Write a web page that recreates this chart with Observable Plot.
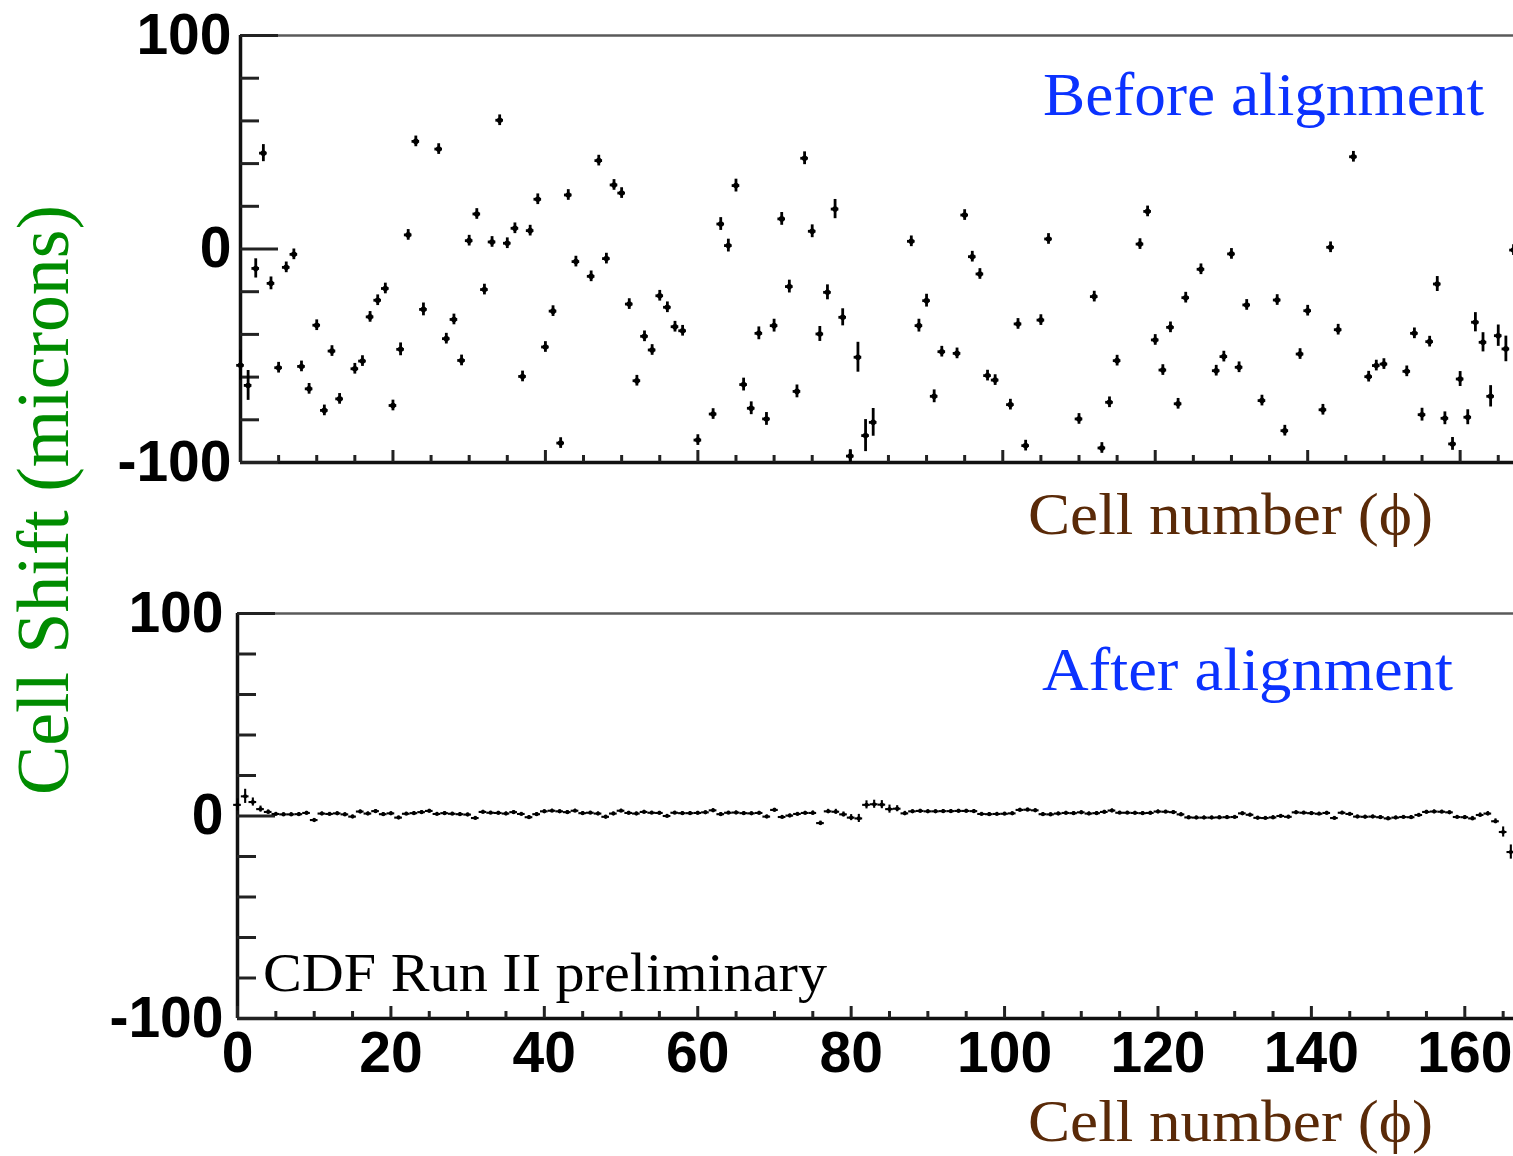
<!DOCTYPE html>
<html><head><meta charset="utf-8">
<script src="https://cdn.jsdelivr.net/npm/d3@7"></script>
<script src="https://cdn.jsdelivr.net/npm/@observablehq/plot@0.6"></script>
<style>
html,body{margin:0;padding:0;background:#fff;overflow:hidden;}
#page{position:relative;width:1513px;height:1156px;background:#fff;}
#top,#bottom,#labels{position:absolute;left:0;}
#top{top:0px}
#bottom{top:580px}
#labels{top:0px;pointer-events:none}
</style></head><body>
<div id="page"><div id="top"></div><div id="bottom"></div><svg id="labels" width="1513" height="1156"></svg></div>
<script>
// ---- data ----
const nCells = 168;
const cells = d3.range(nCells); // cell number (phi)
const xDomain = [0, 167];
const yDomain = [-100, 100];
const yTickLabels = [-100, 0, 100];
const yMajorTicks = [-100, 0, 100];
const yMinorTicks = [-80, -60, -40, -20, 20, 40, 60, 80];
const xLabelTicks = [0, 20, 40, 60, 80, 100, 120, 140, 160];
const xMinorTicks = [5,10,15,25,30,35,45,50,55,65,70,75,85,90,95,105,110,115,125,130,135,145,150,155,165];
const binHalf = 0.5;

// Cell shift before alignment (microns); null = off scale
const before = [
 -54.5,-63.9,-9.1,44.9,-16.1,-55.6,-8.6,-2.5,-55.0,-65.5,
 -35.7,-75.6,-47.8,-70.2,null,-56.1,-52.5,-31.8,-24.0,-18.5,
 -73.3,-47.0,6.6,50.4,-28.3,null,46.8,-42.0,-33.0,-52.2,
 3.9,16.4,-19.0,3.3,60.3,2.7,9.7,-59.7,8.6,23.3,
 -45.9,-29.1,-90.9,25.3,-5.9,null,-12.8,41.4,-4.5,30.0,
 26.2,-25.8,-61.7,-40.9,-47.3,-21.9,-27.3,-36.4,-38.3,null,
 -89.5,null,-77.3,11.7,1.6,29.7,-63.5,-74.6,-39.5,-79.6,
 -35.9,14.1,-17.6,-66.7,42.5,8.3,-39.8,-20.3,18.7,-32.0,
 -97.0,-50.7,-87.4,-81.2,null,null,null,null,3.6,-35.9,
 -24.2,-69.0,-48.1,null,-48.9,15.9,-3.6,-11.7,-59.3,-61.4,
 null,-72.9,-35.1,-92.1,null,-33.3,4.7,null,null,null,
 -79.6,null,-22.3,-93.2,-71.8,-52.3,null,null,2.3,17.6,
 -42.6,-56.7,-36.7,-72.5,-22.8,null,-9.5,null,-57.0,-50.4,
 -2.3,-55.4,-26.2,null,-71.0,null,-23.9,-85.1,null,-49.2,
 -28.9,null,-75.3,0.8,-37.8,null,43.2,null,-59.8,-54.6,
 -53.9,null,null,-57.3,-39.5,-77.6,-43.4,-16.4,-79.3,-91.3,
 -60.9,-78.8,-34.3,-43.7,-69.0,-40.6,-46.8,-0.5
];
const beforeErr = [
 7,7,4.5,4,3,2.5,2.5,2.5,2.5,2.5,
 2.5,2.5,2.5,2.5,0,2.5,2.5,2.5,2.5,2.5,
 2.5,3,2.5,2.5,3,0,2.5,2.5,2.5,2.5,
 2.5,2.5,2.5,2.5,2.5,2.5,2.5,2.5,2.5,2.5,
 2.5,2.5,2.5,2.5,2.5,0,2.5,2.5,2.5,2.5,
 2.5,2.5,2.5,2.5,2.5,2.5,2.5,2.5,2.5,0,
 2.5,0,2.5,3,3,3,3,3,3,3,
 3,3,3,3,3,3,3.5,3.5,4.5,4,
 3,7,7.5,6.5,0,0,0,0,2.5,3,
 3,3,2.5,0,2.5,2.5,2.5,2.5,2.5,2.5,
 0,2.5,2.5,2.5,0,2.5,2.5,0,0,0,
 2.5,0,2.5,2.5,2.5,2.5,0,0,2.5,2.5,
 2.5,2.5,2.5,2.5,2.5,0,2.5,0,2.5,2.5,
 2.5,2.5,2.5,0,2.5,0,2.5,2.5,0,2.5,
 2.5,0,2.5,2.5,2.5,0,2.5,0,2.5,2.5,
 2.5,0,0,2.5,2.5,3,2.5,3.5,3,3,
 3.5,3.5,4.5,4.5,5,5,6,2.5
];
// Cell shift after alignment (microns)
const after = [
 5.5,9.7,6.9,3.4,2.0,1.0,0.8,0.8,0.9,1.5,
 -2.0,1.2,1.0,1.3,0.8,-0.3,2.2,1.2,2.4,0.9,
 1.3,-0.8,1.1,1.4,1.9,2.5,1.0,1.4,1.1,0.9,
 0.7,-1.0,2.0,1.6,1.5,1.2,1.9,1.0,-0.6,0.9,
 2.3,2.6,2.3,1.9,2.6,1.4,1.6,1.2,-0.4,1.2,
 2.6,1.5,1.2,2.0,1.6,1.5,0.0,1.6,1.4,1.4,
 1.5,1.8,2.8,0.9,1.6,1.7,1.4,1.3,1.5,-0.3,
 3.0,-0.5,0.2,1.0,1.5,1.5,-3.5,2.3,2.1,0.8,
 -0.8,-1.2,5.5,5.8,5.6,3.4,3.6,1.3,2.3,2.5,
 2.3,2.3,2.4,2.4,2.5,2.5,2.4,1.0,0.9,1.0,
 1.1,1.3,3.0,3.1,2.8,0.9,0.8,1.2,1.5,1.4,
 1.8,1.2,1.4,2.0,2.7,1.6,1.6,1.5,1.4,1.5,
 2.2,2.1,1.9,0.8,-0.7,-0.8,-0.8,-0.8,-0.7,-0.6,
 -0.5,1.3,0.6,-0.9,-1.0,-0.7,0.0,-0.4,1.8,1.6,
 1.4,1.1,1.5,-1.0,1.6,1.0,-0.3,-0.4,-0.3,-0.6,
 -1.2,-0.8,-0.5,-0.6,0.5,2.0,2.2,2.1,1.8,-0.5,
 -0.6,-1.2,0.5,1.2,-2.6,-7.9,-17.8,null
];
const afterErr = [
 3,3.5,2,1.5,1,0.8,0.8,0.8,0.8,0.8,
 0.8,0.8,0.8,0.8,0.8,0.8,0.8,0.8,0.8,0.8,
 0.8,0.8,0.8,0.8,0.8,0.8,0.8,0.8,0.8,0.8,
 0.8,0.8,0.8,0.8,0.8,0.8,0.8,0.8,0.8,0.8,
 0.8,0.8,0.8,0.8,0.8,0.8,0.8,0.8,0.8,0.8,
 0.8,0.8,0.8,0.8,0.8,0.8,0.8,0.8,0.8,0.8,
 0.8,0.8,0.8,0.8,0.8,0.8,0.8,0.8,0.8,0.8,
 0.8,0.8,0.8,0.8,0.8,1,1,1,1.2,1.2,
 1.5,2,2,2,2,2,1.5,1,0.8,0.8,
 0.8,0.8,0.8,0.8,0.8,0.8,0.8,0.8,0.8,0.8,
 0.8,0.8,0.8,0.8,0.8,0.8,0.8,0.8,0.8,0.8,
 0.8,0.8,0.8,0.8,0.8,0.8,0.8,0.8,0.8,0.8,
 0.8,0.8,0.8,0.8,0.8,0.8,0.8,0.8,0.8,0.8,
 0.8,0.8,0.8,0.8,0.8,0.8,0.8,0.8,0.8,0.8,
 0.8,0.8,0.8,0.8,0.8,0.8,0.8,0.8,0.8,0.8,
 0.8,0.8,0.8,0.8,0.8,0.8,0.8,0.8,0.8,0.8,
 0.8,1,1,1,1.2,2.5,3.5,0
];

// ---- drawing ----
const tickFont = "'Liberation Sans', Arial, Helvetica, sans-serif";
const W = 1513;

function panel({values, errors, xRange, marginLeft, marginTop, height, marginBottom,
                yPad, showX, markW, dotR}) {
  const data = values.map((v, i) => ({cell: cells[i], v, e: errors[i]})).filter(d => d.v != null);
  const frameW = W - marginLeft;
  const frameH = height - marginTop - marginBottom;
  const marks = [
    Plot.ruleY([yDomain[1]], {stroke: "#5a5a5a", strokeWidth: 2.6}),
    Plot.ruleY([yDomain[0]], {stroke: "#111", strokeWidth: 3.5}),
    Plot.ruleX([xDomain[0]], {stroke: "#111", strokeWidth: 3.5}),
    Plot.tickY(yMinorTicks, {y: d => d, insetRight: frameW - 19, stroke: "#222", strokeWidth: 3}),
    Plot.tickY(yMajorTicks, {y: d => d, insetRight: frameW - 38, stroke: "#222", strokeWidth: 3}),
    Plot.tickX(xMinorTicks, {x: d => d, insetTop: frameH - 7, stroke: "#222", strokeWidth: 3}),
    Plot.tickX(xLabelTicks, {x: d => d, insetTop: frameH - 12, stroke: "#222", strokeWidth: 3}),
    Plot.ruleX(data, {x: "cell", y1: d => d.v - d.e, y2: d => d.v + d.e, stroke: "#000", strokeWidth: markW}),
    Plot.ruleY(data, {y: "v", x1: d => d.cell - binHalf, x2: d => d.cell + binHalf, stroke: "#000", strokeWidth: markW}),
    Plot.dot(data, {x: "cell", y: "v", r: dotR, fill: "#000", stroke: "none"}),
    Plot.axisY({ticks: yTickLabels, tickSize: 0, tickPadding: yPad, tickFormat: d => String(d),
                fontSize: 57, fontWeight: "bold", fontFamily: tickFont, fill: "#000", label: null})
  ];
  if (showX) {
    marks.push(Plot.axisX({ticks: xLabelTicks, tickSize: 0, tickPadding: 13, tickFormat: d => String(d),
                fontSize: 57, fontWeight: "bold", fontFamily: tickFont, fill: "#000", label: null}));
  }
  return Plot.plot({
    width: W, height, marginLeft, marginRight: 0, marginTop, marginBottom,
    x: {domain: xDomain, range: xRange, axis: showX ? undefined : null},
    y: {domain: yDomain},
    style: {background: "transparent", overflow: "visible", color: "#000"},
    marks
  });
}

document.getElementById("top").append(panel({
  values: before, errors: beforeErr, xRange: [240, 1513],
  marginLeft: 240, marginTop: 35, height: 500, marginBottom: 38,
  yPad: 9, showX: false, markW: 2.8, dotR: 2.8
}));
document.getElementById("bottom").append(panel({
  values: after, errors: afterErr, xRange: [237, 1518],
  marginLeft: 237, marginTop: 33, height: 520, marginBottom: 82,
  yPad: 14, showX: true, markW: 2.1, dotR: 2.1
}));

// ---- text labels ----
const serif = "'Liberation Serif', 'Times New Roman', serif";
const labels = [
  {t: "Before alignment", x: 1043, y: 115, size: 61, len: 441, fill: "#0b32ff"},
  {t: "After alignment", x: 1042, y: 690, size: 61, len: 411, fill: "#0b32ff"},
  {t: "Cell number (\u03d5)", x: 1028, y: 534, size: 60, len: 405, fill: "#5a2a08"},
  {t: "Cell number (\u03d5)", x: 1028, y: 1141, size: 60, len: 405, fill: "#5a2a08"},
  {t: "CDF Run II preliminary", x: 263, y: 991, size: 54, len: 564, fill: "#000"}
];
const svg = d3.select("#labels");
svg.selectAll("text.lab").data(labels).join("text")
  .attr("class", "lab")
  .attr("x", d => d.x).attr("y", d => d.y)
  .attr("font-family", serif).attr("font-size", d => d.size)
  .attr("fill", d => d.fill)
  .attr("textLength", d => d.len).attr("lengthAdjust", "spacingAndGlyphs")
  .text(d => d.t);
svg.append("text")
  .attr("transform", "translate(68,795) rotate(-90)")
  .attr("font-family", serif).attr("font-size", 74)
  .attr("fill", "#008c00")
  .attr("textLength", 590).attr("lengthAdjust", "spacingAndGlyphs")
  .text("Cell Shift (microns)");
</script>
</body></html>
